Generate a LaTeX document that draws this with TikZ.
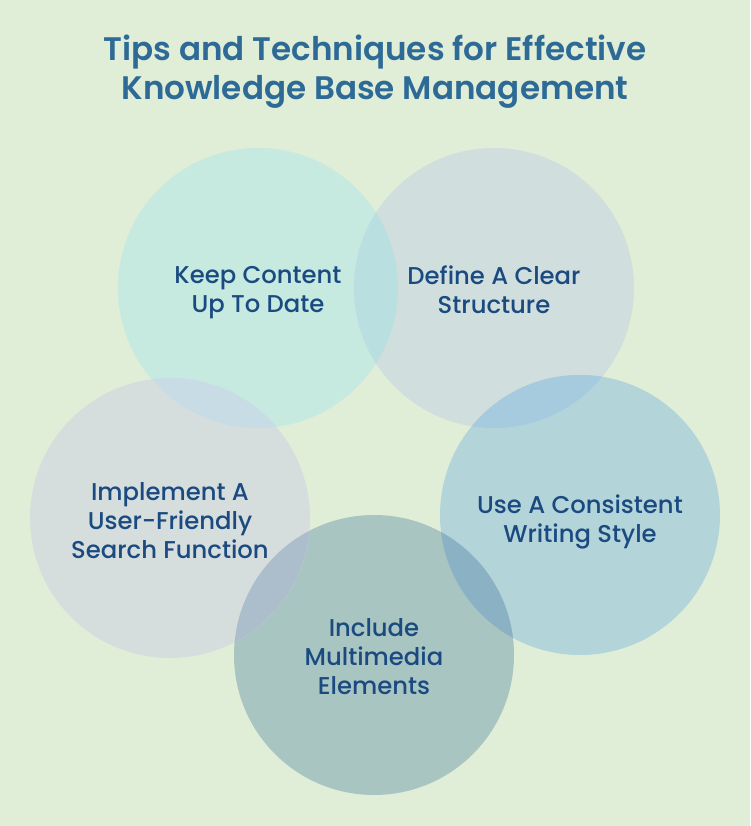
\documentclass[tikz,border=0pt]{standalone}
\usepackage{fontspec}
\setmainfont{Poppins}
\newfontfamily\tipfont{Poppins Medium}
\newfontfamily\titlefont{Poppins SemiBold}

\definecolor{pagebg}{RGB}{224,238,216}
\definecolor{titleblue}{RGB}{46,106,150}
\definecolor{tipblue}{RGB}{26,74,128}
\definecolor{keepfill}{RGB}{198,233,224}
\definecolor{definefill}{RGB}{208,222,221}
\definecolor{usefill}{RGB}{179,213,218}
\definecolor{includefill}{RGB}{169,197,193}
\definecolor{searchfill}{RGB}{214,222,221}
\definecolor{keepdefine}{RGB}{186,223,224}
\definecolor{defineuse}{RGB}{166,202,222}
\definecolor{useinclude}{RGB}{138,178,196}
\definecolor{includesearch}{RGB}{172,190,204}
\definecolor{searchkeep}{RGB}{200,220,230}

\begin{document}
\begin{tikzpicture}[x=1pt, y=-1pt,
  tip/.style={circle, minimum size=280pt, inner sep=0pt},
  tiptext/.style={font=\tipfont\fontsize{24.3}{29}\selectfont, text=tipblue, align=center}]
  \useasboundingbox (0,0) rectangle (750,826);
  \fill[pagebg] (0,0) rectangle (750,826);

  \node[font=\titlefont\fontsize{32.6}{39}\selectfont, text=titleblue, align=center] (title) at (375,72)
    {Tips and Techniques for Effective\\Knowledge Base Management};

  \node[tip, fill=keepfill] (keep) at (258,288) {};
  \node[tip, fill=definefill] (define) at (494,288) {};
  \node[tip, fill=usefill] (use) at (580,515) {};
  \node[tip, fill=includefill] (include) at (374,655) {};
  \node[tip, fill=searchfill] (search) at (170,518) {};

  % overlaps
  \begin{scope}
    \clip (keep.center) circle[radius=140pt];
    \fill[keepdefine] (define.center) circle[radius=140pt];
  \end{scope}
  \begin{scope}
    \clip (define.center) circle[radius=140pt];
    \fill[defineuse] (use.center) circle[radius=140pt];
  \end{scope}
  \begin{scope}
    \clip (use.center) circle[radius=140pt];
    \fill[useinclude] (include.center) circle[radius=140pt];
  \end{scope}
  \begin{scope}
    \clip (include.center) circle[radius=140pt];
    \fill[includesearch] (search.center) circle[radius=140pt];
  \end{scope}
  \begin{scope}
    \clip (search.center) circle[radius=140pt];
    \fill[searchkeep] (keep.center) circle[radius=140pt];
  \end{scope}

  % labels
  \node[tiptext] (keeptext) at (258,293) {Keep Content\\Up To Date};
  \node[tiptext] (definetext) at (494,290) {Define A Clear\\Structure};
  \node[tiptext] (usetext) at (580,522) {Use A Consistent\\Writing Style};
  \node[tiptext] (includetext) at (374,657) {Include\\Multimedia\\Elements};
  \node[tiptext] (searchtext) at (170,521) {Implement A\\User-Friendly\\Search Function};
\end{tikzpicture}
\end{document}
